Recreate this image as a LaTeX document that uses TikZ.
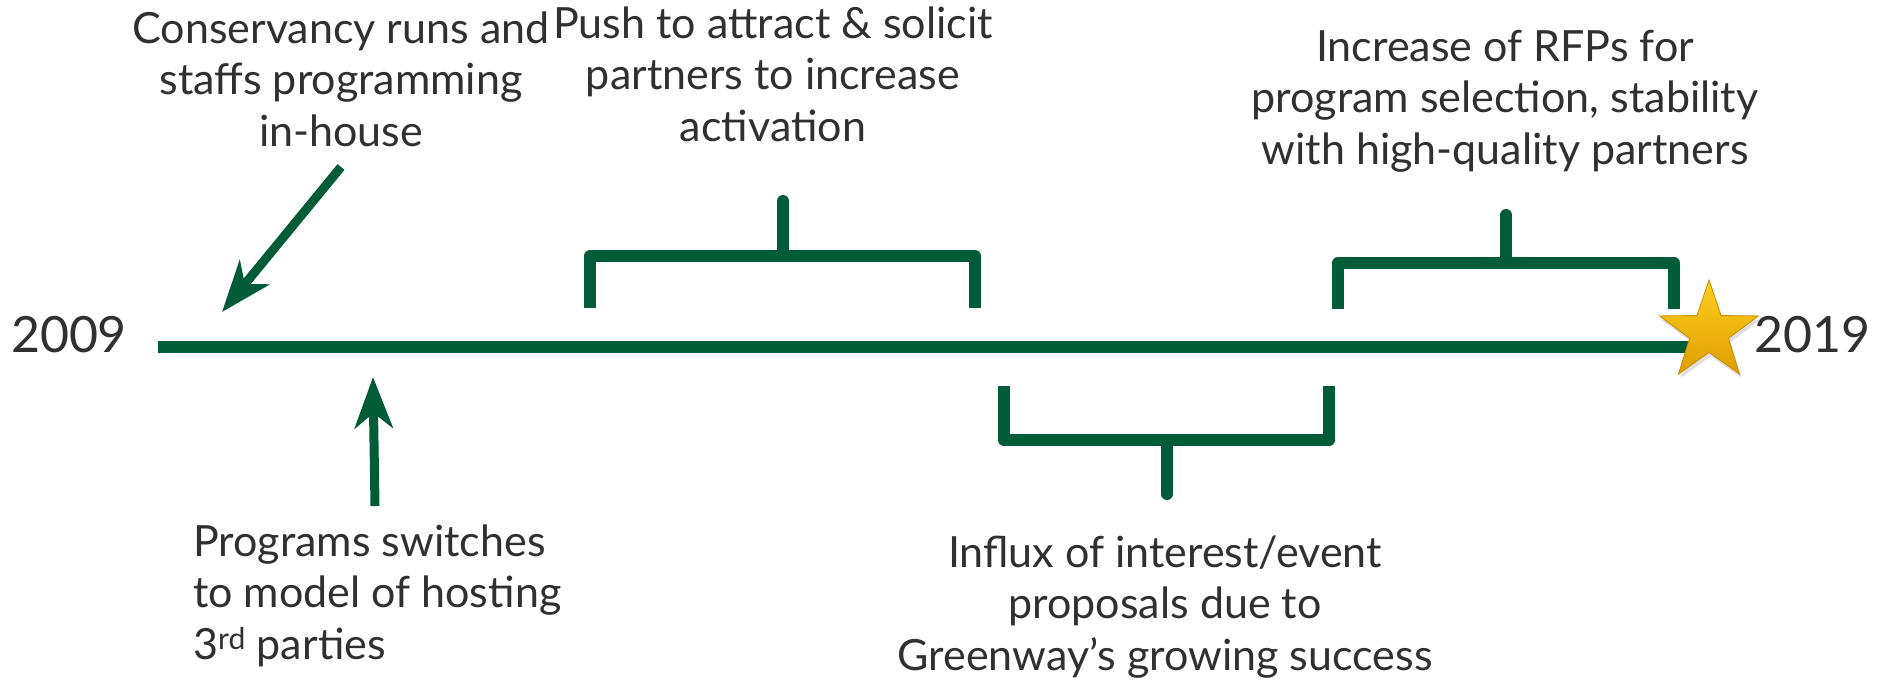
\documentclass[tikz,border=0pt]{standalone}
\usepackage{fontspec}
\setmainfont{Lato}
\usetikzlibrary{arrows.meta,shapes.geometric,shadows}
\definecolor{tlgreen}{RGB}{0,91,55}
\definecolor{txtgray}{RGB}{48,48,48}
\definecolor{startop}{RGB}{255,206,30}
\definecolor{starbot}{RGB}{222,158,0}
\definecolor{staredge}{RGB}{200,140,0}
\begin{document}
\begin{tikzpicture}[x=1pt,y=-1pt,
  lbl/.style={font=\fontsize{43}{51.5}\selectfont, text=txtgray, inner sep=0pt, align=center},
  yearlbl/.style={font=\fontsize{50}{60}\selectfont, text=txtgray, inner sep=0pt},
  tline/.style={draw=tlgreen, line width=12pt, line cap=butt},
  bar/.style={draw=tlgreen, line width=12pt, line join=round, line cap=butt},
  stem/.style={draw=tlgreen, line width=12pt, line cap=round},
  pointer/.style={draw=tlgreen, line width=9pt, -{Stealth[length=51pt,width=38pt,inset=15pt]}},
  shade/.style={draw=black, opacity=0.10, line width=12pt, xshift=1pt, yshift=-3pt}
]
\useasboundingbox (0,0) rectangle (1877,681);
\fill[white] (0,0) rectangle (1877,681);

% years
\node[yearlbl, anchor=base] (y2009) at (69,352) {2009};
\node[yearlbl, anchor=base] (y2019) at (1812,352) {2019};

% timeline
\coordinate (tlstart) at (158,347);
\coordinate (tlend) at (1705,347);
\draw[shade, line cap=butt] (tlstart) -- (tlend);
\draw[tline] (tlstart) -- (tlend);

% bracket 1 (top)
\coordinate (b1l) at (590,308);
\coordinate (b1lt) at (590,256);
\coordinate (b1rt) at (975,256);
\coordinate (b1r) at (975,308);
\coordinate (b1s) at (783,256);
\coordinate (b1st) at (783,201);
\draw[shade, line join=round] (b1l) -- (b1lt) -- (b1rt) -- (b1r);
\draw[bar] (b1l) -- (b1lt) -- (b1rt) -- (b1r);
\draw[stem] (b1s) -- (b1st);

% bracket 2 (bottom)
\coordinate (b2l) at (1004,386);
\coordinate (b2lb) at (1004,440);
\coordinate (b2rb) at (1329,440);
\coordinate (b2r) at (1329,386);
\coordinate (b2s) at (1167,440);
\coordinate (b2sb) at (1167,494);
\draw[shade, line join=round] (b2l) -- (b2lb) -- (b2rb) -- (b2r);
\draw[shade, line cap=round] (b2s) -- (b2sb);
\draw[bar] (b2l) -- (b2lb) -- (b2rb) -- (b2r);
\draw[stem] (b2s) -- (b2sb);

% bracket 3 (top)
\coordinate (b3l) at (1338,309);
\coordinate (b3lt) at (1338,263);
\coordinate (b3rt) at (1674,263);
\coordinate (b3r) at (1674,309);
\coordinate (b3s) at (1506,263);
\coordinate (b3st) at (1506,215);
\draw[shade, line join=round] (b3l) -- (b3lt) -- (b3rt) -- (b3r);
\draw[bar] (b3l) -- (b3lt) -- (b3rt) -- (b3r);
\draw[stem] (b3s) -- (b3st);

% star
\node[star, star points=5, star point ratio=2.55, minimum size=104pt, inner sep=0pt,
      draw=staredge, line width=0.8pt, top color=startop, bottom color=starbot,
      drop shadow={opacity=0.25, shadow xshift=2pt, shadow yshift=-4pt}] (star) at (1709,332) {};

% arrows
\coordinate (a1s) at (341,167);
\coordinate (a1e) at (222,312);
\draw[pointer] (a1s) -- (a1e);
\coordinate (a2s) at (375,506);
\coordinate (a2e) at (373,377);
\draw[pointer] (a2s) -- (a2e);

% labels (anchor base = baseline of the last line)
\node[lbl, anchor=base] (t1) at (341,146) {Conservancy runs and\\staffs programming\\in-house};
\node[lbl, anchor=base] (t2) at (773,141) {Push to attract \& solicit\\partners to increase\\activation};
\node[lbl, anchor=base] (t3) at (1505,164) {Increase of RFPs for\\program selection, stability\\with high-quality partners};
\node[lbl, anchor=base west, align=left] (t4) at (193,659) {Programs switches\\to model of hosting\\3\textsuperscript{rd} parties};
\node[lbl, anchor=base] (t5) at (1165,670) {Influx of interest/event\\proposals due to\\Greenway’s growing success};
\end{tikzpicture}
\end{document}
